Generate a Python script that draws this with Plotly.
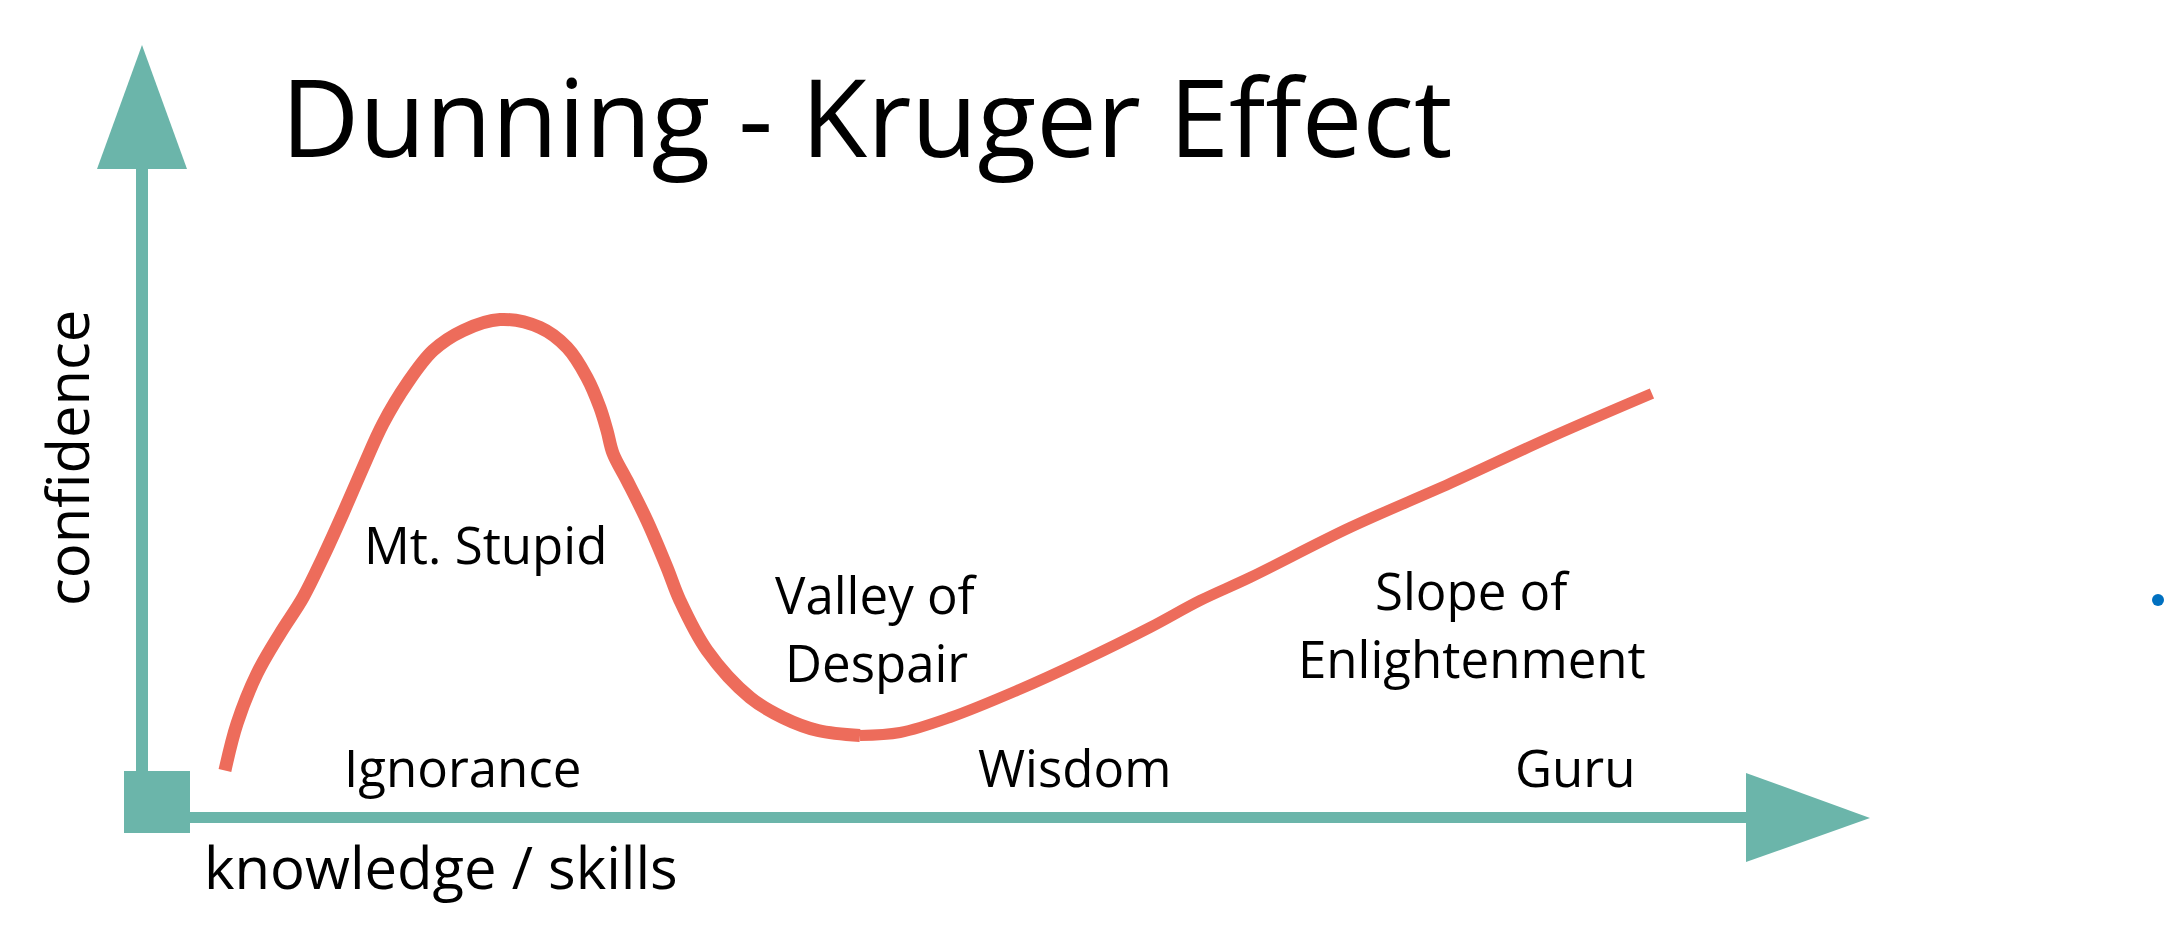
import plotly.graph_objects as go

# ---- data (knowledge vs confidence, arbitrary 0-100 units) ----
knowledge = [4.80, 5.50, 6.66, 7.99, 9.32, 10.47, 11.63, 12.79, 13.95, 15.34, 16.84, 18.58,
             20.72, 23.03, 24.60, 25.75, 26.50, 26.91, 27.26, 28.07, 29.22, 30.38, 31.13,
             32.70, 35.19, 37.09, 39.12, 41.55, 43.87, 46.76, 50.64, 54.46, 58.33, 61.23,
             64.12, 69.91, 75.69, 81.48, 87.38]
confidence = [6.09, 12.18, 18.65, 23.83, 28.50, 33.68, 39.38, 45.34, 51.04, 56.22, 60.49, 63.08,
              64.51, 63.47, 60.88, 56.99, 53.11, 50.13, 47.15, 43.65, 38.47, 32.38, 28.11,
              21.63, 15.54, 12.95, 11.27, 10.62, 11.01, 12.95, 16.45, 20.34, 24.61, 28.11,
              31.09, 37.56, 43.26, 49.22, 54.92]
valley_index = 27   # valley bottom, where the stroke becomes thinner

stage_labels = ["Ignorance", "Wisdom", "Guru"]
stage_x = [18.52, 53.94, 82.93]
stage_y = 6.6

region_labels = ["Mt. Stupid", "Valley of", "Despair", "Slope of", "Enlightenment"]
region_x = [19.85, 42.53, 42.53, 76.97, 76.97]
region_y = [35.4, 29.0, 20.1, 29.5, 20.6]

title_text = "Dunning - Kruger Effect"
x_title = "knowledge / skills"
y_title = "confidence"

# ---- pixel -> data helpers for layout decoration (page pixels) ----
PAGE_W, PAGE_H = 2175, 946
BODY = 8                      # default page body margin
W, H = PAGE_W - 2 * BODY, PAGE_H - 2 * BODY
OX, OY = 142.0, 817.5
SX, SY = 17.28, 7.72

def X(px):
    return (px - OX) / SX

def Y(py):
    return (OY - py) / SY

TEAL = "#6BB5AA"
RED = "#ED6C5B"
FONT = "Open Sans"

fig = go.Figure()
fig.add_trace(go.Scatter(
    x=knowledge[:valley_index + 1], y=confidence[:valley_index + 1], mode="lines",
    line=dict(color=RED, width=13, shape="spline", smoothing=1.0),
    hoverinfo="skip", showlegend=False))
fig.add_trace(go.Scatter(
    x=knowledge[valley_index:], y=confidence[valley_index:], mode="lines",
    line=dict(color=RED, width=11, shape="spline", smoothing=1.0),
    hoverinfo="skip", showlegend=False))

# blue dot at far right
fig.add_trace(go.Scatter(
    x=[X(2158)], y=[Y(600)], mode="markers",
    marker=dict(color="#0070C0", size=12), hoverinfo="skip", showlegend=False))

shapes = []
shapes.append(dict(type="rect", xref="x", yref="y", x0=X(136), x1=X(148), y0=Y(168), y1=Y(775),
                   fillcolor=TEAL, line=dict(width=0), layer="below"))
shapes.append(dict(type="path", xref="x", yref="y",
                   path=f"M {X(97)} {Y(169)} L {X(142)} {Y(45)} L {X(187)} {Y(169)} Z",
                   fillcolor=TEAL, line=dict(width=0), layer="below"))
shapes.append(dict(type="rect", xref="x", yref="y", x0=X(124), x1=X(190), y0=Y(833), y1=Y(771),
                   fillcolor=TEAL, line=dict(width=0), layer="below"))
shapes.append(dict(type="rect", xref="x", yref="y", x0=X(188), x1=X(1748), y0=Y(823), y1=Y(812),
                   fillcolor=TEAL, line=dict(width=0), layer="below"))
shapes.append(dict(type="path", xref="x", yref="y",
                   path=f"M {X(1746)} {Y(773)} L {X(1870)} {Y(818)} L {X(1746)} {Y(862)} Z",
                   fillcolor=TEAL, line=dict(width=0), layer="below"))

annotations = []
LBL = 51
AX = 58
for t, xv in zip(stage_labels, stage_x):
    annotations.append(dict(text=t, x=xv, y=stage_y, xref="x", yref="y", showarrow=False,
                            xanchor="center", yanchor="middle",
                            font=dict(family=FONT, size=LBL, color="black")))
for t, xv, yv in zip(region_labels, region_x, region_y):
    annotations.append(dict(text=t, x=xv, y=yv, xref="x", yref="y", showarrow=False,
                            xanchor="center", yanchor="middle",
                            font=dict(family=FONT, size=LBL, color="black")))
annotations.append(dict(text=title_text, x=X(867), y=Y(115), xref="x", yref="y", showarrow=False,
                        xanchor="center", yanchor="middle",
                        font=dict(family=FONT, size=108, color="black")))
annotations.append(dict(text=x_title, x=X(441), y=Y(866), xref="x", yref="y", showarrow=False,
                        xanchor="center", yanchor="middle",
                        font=dict(family=FONT, size=AX, color="black")))
annotations.append(dict(text=y_title, x=X(66), y=Y(458), xref="x", yref="y", showarrow=False,
                        xanchor="center", yanchor="middle", textangle=-90,
                        font=dict(family=FONT, size=AX, color="black")))

fig.update_layout(
    width=W, height=H, margin=dict(l=0, r=0, t=0, b=0),
    paper_bgcolor="white", plot_bgcolor="white",
    xaxis=dict(range=[X(BODY), X(BODY + W)], visible=False, fixedrange=True),
    yaxis=dict(range=[Y(BODY + H), Y(BODY)], visible=False, fixedrange=True),
    shapes=shapes, annotations=annotations, showlegend=False,
)

fig.write_html("out.html")
